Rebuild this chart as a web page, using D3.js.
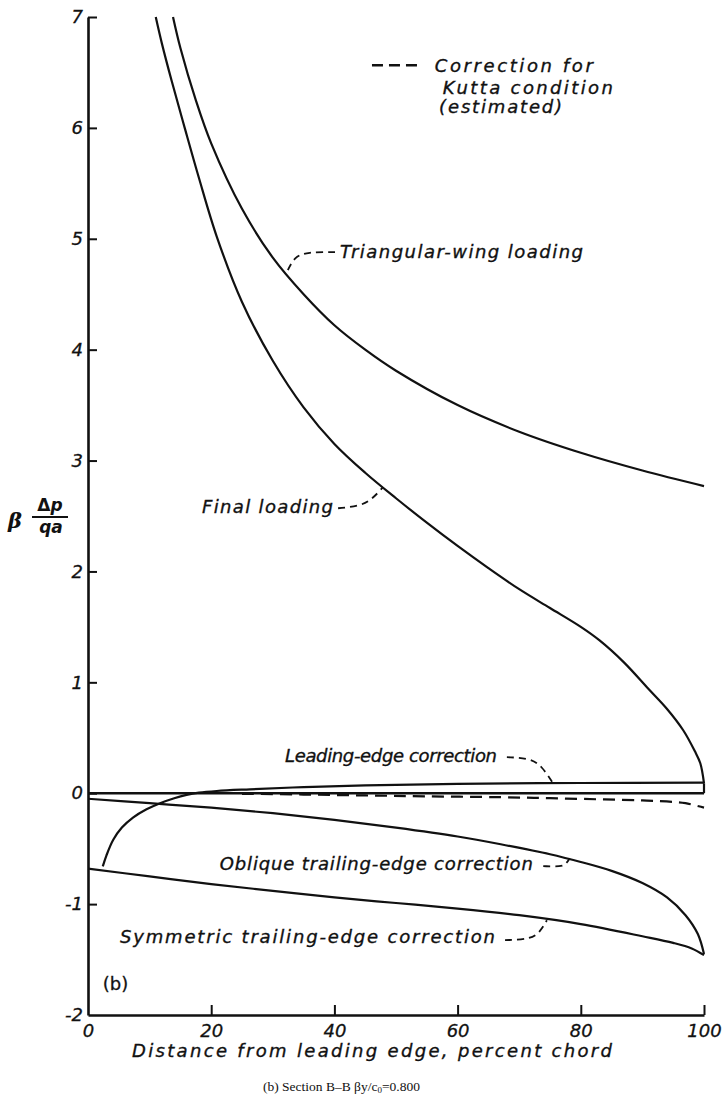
<!DOCTYPE html>
<html>
<head>
<meta charset="utf-8">
<script src="https://cdn.jsdelivr.net/npm/d3@7"></script>
<style>
  html, body { margin: 0; padding: 0; background: #fff; }
  svg { display: block; }
  text { fill: #111; }
  .lab { font-family: "DejaVu Sans", sans-serif; font-style: italic; font-size: 18px; stroke: #111; stroke-width: 0.35px; }
  .tick text { font-family: "DejaVu Sans", sans-serif; font-style: italic; font-size: 18px; stroke: #111; stroke-width: 0.3px; }
</style>
</head>
<body>
<svg id="chart" width="723" height="1099"></svg>
<script>
// Axis ticks
const xTicks = [0, 20, 40, 60, 80, 100];
const yTicks = [-2, -1, 0, 1, 2, 3, 4, 5, 6, 7];
const yTickLabels = ["-2", "-1", "0", "1", "2", "3", "4", "5", "6", "7"];

// Triangular-wing loading
const triX = [13.8, 15, 17.5, 20, 25, 30, 35, 40, 45, 50, 60, 70, 80, 90, 100];
const triY = [7.0, 6.72, 6.25, 5.86, 5.27, 4.83, 4.50, 4.22, 4.00, 3.81, 3.50, 3.26, 3.07, 2.91, 2.77];

// Final loading
const finX = [11, 12, 13.6, 15.7, 18, 20.9, 25, 30, 35, 40, 45, 50, 55, 60, 65, 70, 75, 80, 83, 87, 91, 94, 96.6, 98.5, 99.4, 100];
const finY = [7.0, 6.76, 6.42, 6.0, 5.55, 5.02, 4.43, 3.90, 3.48, 3.15, 2.89, 2.66, 2.44, 2.23, 2.03, 1.84, 1.67, 1.5, 1.38, 1.18, 0.94, 0.76, 0.57, 0.38, 0.27, 0.09];

// Leading-edge correction
const leX = [2.4, 3, 4.1, 5.5, 7.3, 9.5, 11.7, 14, 16, 18, 20.9, 26.3, 35, 45, 60, 80, 100];
const leY = [-0.66, -0.56, -0.42, -0.31, -0.22, -0.145, -0.09, -0.045, -0.015, 0.005, 0.02, 0.035, 0.055, 0.07, 0.085, 0.092, 0.095];

// Correction for Kutta condition (estimated), dashed
const kutX = [25, 35, 45, 55, 67, 75, 83, 90, 95, 97, 100];
const kutY = [-0.005, -0.012, -0.02, -0.028, -0.036, -0.045, -0.055, -0.065, -0.078, -0.09, -0.13];

// Oblique trailing-edge correction
const oblX = [0, 10, 20, 30, 40, 50, 60, 67, 75, 80, 85, 90, 94, 97, 99, 100];
const oblY = [-0.05, -0.09, -0.13, -0.18, -0.24, -0.31, -0.39, -0.46, -0.55, -0.62, -0.70, -0.81, -0.94, -1.10, -1.27, -1.45];

// Symmetric trailing-edge correction
const symX = [0, 10, 20, 30, 40, 50, 60, 70, 80, 90, 95, 98, 100];
const symY = [-0.68, -0.75, -0.82, -0.88, -0.94, -0.99, -1.04, -1.10, -1.18, -1.29, -1.35, -1.40, -1.46];

const zip = (xs, ys) => xs.map((v, i) => [v, ys[i]]);

const svg = d3.select("#chart");
const x = d3.scaleLinear().domain([0, 100]).range([88, 704]);
const y = d3.scaleLinear().domain([-2, 7]).range([1015, 17]);

const line = d3.line().x(d => x(d[0])).y(d => y(d[1])).curve(d3.curveCatmullRom.alpha(0.5));
const smooth = d3.line().x(d => x(d[0])).y(d => y(d[1])).curve(d3.curveBasis);

// Axes: left and bottom only, ticks pointing inward
const yAxis = svg.append("g")
  .attr("transform", `translate(${x(0)},0)`)
  .call(d3.axisLeft(y).tickValues(yTicks).tickSize(-9).tickSizeOuter(0).tickPadding(5)
    .tickFormat((d, i) => yTickLabels[i]));
const xAxis = svg.append("g")
  .attr("transform", `translate(0,${y(-2)})`)
  .call(d3.axisBottom(x).tickValues(xTicks).tickSize(-10).tickSizeOuter(0).tickPadding(9));

[yAxis, xAxis].forEach(g => {
  g.select(".domain").attr("stroke", "#111").attr("stroke-width", 2.6);
  g.selectAll(".tick line").attr("stroke", "#111").attr("stroke-width", 2);
  g.selectAll(".tick text").attr("fill", "#111");
});
xAxis.selectAll(".tick").filter(d => d === 0).select("line").remove();
yAxis.selectAll(".tick").filter(d => d === -2).select("line").remove();

// Zero reference line
svg.append("line")
  .attr("x1", x(0)).attr("x2", x(100)).attr("y1", y(0)).attr("y2", y(0))
  .attr("stroke", "#111").attr("stroke-width", 2.4);

// Curves
const curves = [
  zip(triX, triY), zip(finX, finY), zip(leX, leY), zip(oblX, oblY), zip(symX, symY)
];
svg.append("g").selectAll("path").data(curves).join("path")
  .attr("d", line).attr("fill", "none").attr("stroke", "#111").attr("stroke-width", 2.2);

// Trailing-edge closure of the final loading down to zero
svg.append("line")
  .attr("x1", x(100)).attr("x2", x(100))
  .attr("y1", y(finY[finY.length - 1])).attr("y2", y(0))
  .attr("stroke", "#111").attr("stroke-width", 2.2);

svg.append("path").datum(zip(kutX, kutY))
  .attr("d", line).attr("fill", "none").attr("stroke", "#111")
  .attr("stroke-width", 2.2).attr("stroke-dasharray", "12,7");

// Leader lines (data coordinates)
const leaders = [
  [[40.1, 4.88], [35.6, 4.88], [33.5, 4.84], [32.3, 4.70]],
  [[40.6, 2.57], [44.2, 2.59], [46.1, 2.65], [47.9, 2.76]],
  [[68.0, 0.325], [71.8, 0.316], [73.7, 0.243], [75.5, 0.09]],
  [[73.9, -0.658], [76.8, -0.662], [77.6, -0.64], [78.2, -0.586]],
  [[67.7, -1.325], [71.9, -1.317], [73.4, -1.25], [74.5, -1.145]]
];
svg.append("g").selectAll("path").data(leaders).join("path")
  .attr("d", smooth).attr("fill", "none").attr("stroke", "#111")
  .attr("stroke-width", 1.8).attr("stroke-dasharray", "7,5");

// Legend for the dashed curve
svg.append("line")
  .attr("x1", x(46.1)).attr("x2", x(53.6)).attr("y1", y(6.565)).attr("y2", y(6.565))
  .attr("stroke", "#111").attr("stroke-width", 2.4).attr("stroke-dasharray", "11,6");

// Curve labels
const labels = [
  { t: "Correction for", px: 56.3, py: 6.50, w: 158, a: "start" },
  { t: "Kutta condition", px: 57.6, py: 6.31, w: 170, a: "start" },
  { t: "(estimated)", px: 57.0, py: 6.13, w: 123, a: "start" },
  { t: "Triangular-wing loading", px: 40.9, py: 4.824, w: 243, a: "start" },
  { t: "Final loading", px: 18.5, py: 2.525, w: 131, a: "start" },
  { t: "Leading-edge correction", px: 66.4, py: 0.28, w: 212, a: "end" },
  { t: "Oblique trailing-edge correction", px: 21.4, py: -0.694, w: 313, a: "start" },
  { t: "Symmetric trailing-edge correction", px: 5.2, py: -1.353, w: 375, a: "start" }
];
svg.append("g").selectAll("text").data(labels).join("text")
  .attr("class", "lab")
  .attr("x", d => x(d.px)).attr("y", d => y(d.py))
  .attr("text-anchor", d => d.a)
  .attr("textLength", d => d.w).attr("lengthAdjust", "spacing")
  .text(d => d.t);

svg.append("text")
  .attr("x", x(2.4)).attr("y", y(-1.776))
  .attr("font-family", "DejaVu Sans, sans-serif").attr("font-size", 18)
  .attr("stroke", "#111").attr("stroke-width", 0.3)
  .text("(b)");

// Axis titles
svg.append("text").attr("class", "lab")
  .attr("x", 132).attr("y", 1057)
  .attr("textLength", 480).attr("lengthAdjust", "spacing")
  .text("Distance from leading edge, percent chord");

const yl = svg.append("g").attr("font-family", "DejaVu Sans, sans-serif");
yl.append("text").attr("x", 8).attr("y", 528)
  .attr("font-family", "DejaVu Serif, serif").attr("font-style", "italic")
  .attr("font-weight", "bold").attr("font-size", 21)
  .text("β");
yl.append("text").attr("x", 50).attr("y", 511).attr("text-anchor", "middle")
  .attr("font-size", 17).attr("font-weight", "bold")
  .call(t => { t.append("tspan").text("Δ"); t.append("tspan").attr("font-style", "italic").text("p"); });
yl.append("line").attr("x1", 32).attr("x2", 68).attr("y1", 517).attr("y2", 517)
  .attr("stroke", "#111").attr("stroke-width", 1.8);
yl.append("text").attr("x", 51).attr("y", 533).attr("text-anchor", "middle")
  .attr("font-size", 17).attr("font-weight", "bold").attr("font-style", "italic")
  .text("qa");

// Caption
svg.append("text")
  .attr("x", 263).attr("y", 1091)
  .attr("font-family", "Liberation Serif, serif").attr("font-size", 13.5)
  .call(t => {
    t.append("tspan").text("(b) Section B\u2013B  βy/c");
    t.append("tspan").attr("font-size", 9).attr("dy", 2).text("0");
    t.append("tspan").attr("dy", -2).text("=0.800");
  });
</script>
</body>
</html>
